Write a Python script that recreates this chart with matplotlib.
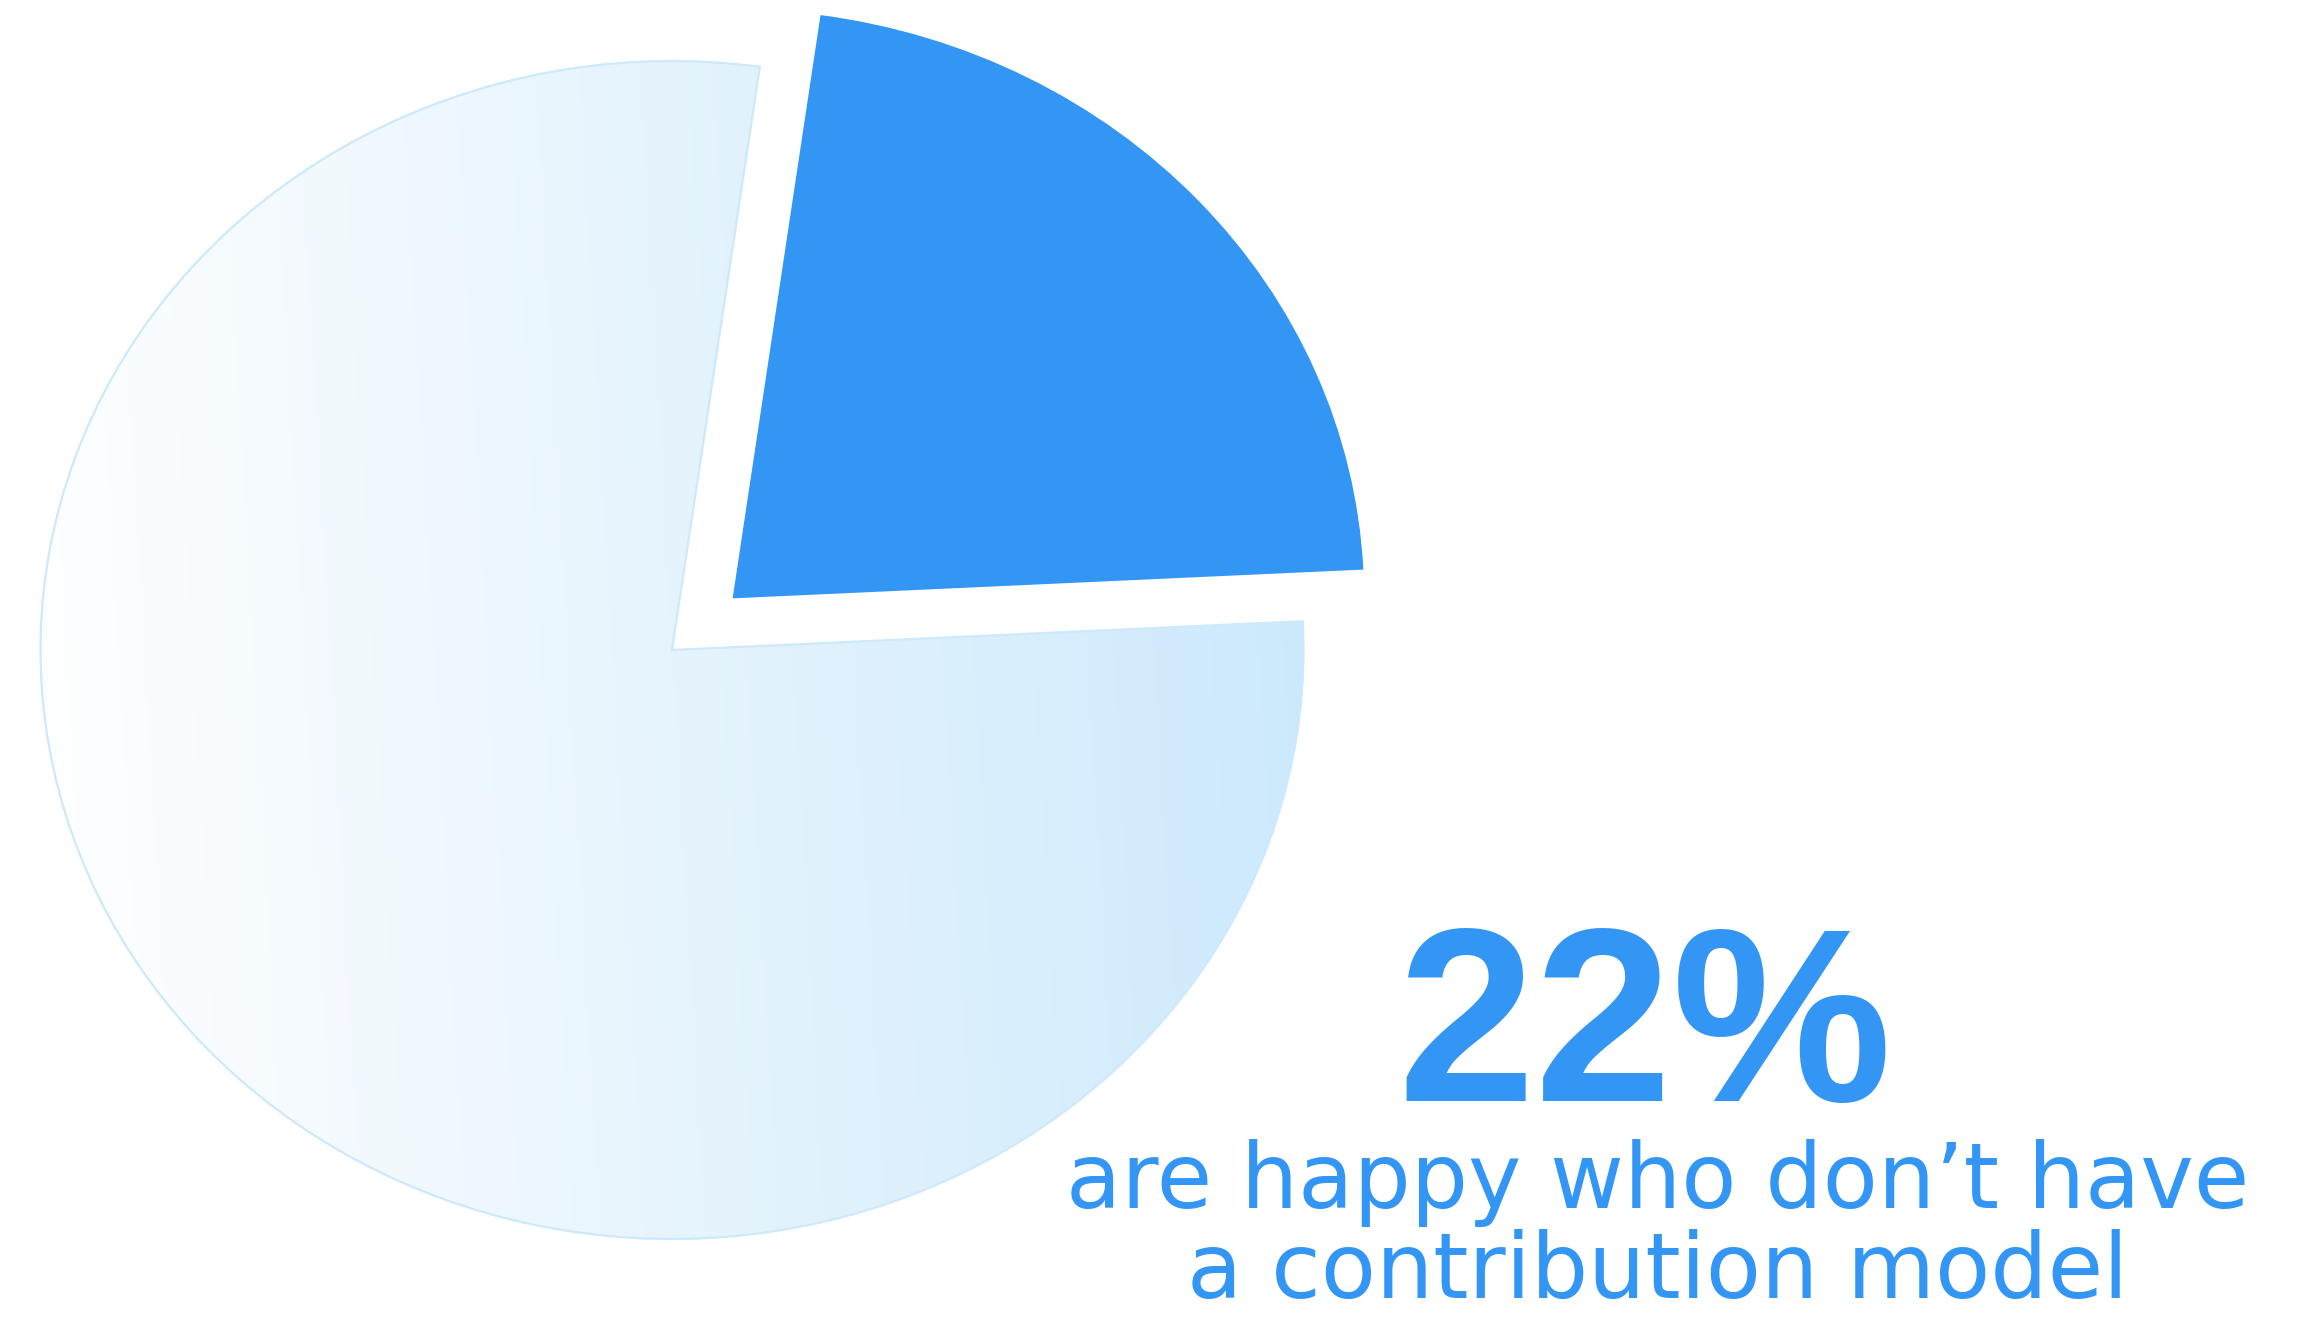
import numpy as np
import matplotlib
matplotlib.use("Agg")
import matplotlib.pyplot as plt
from matplotlib.colors import LinearSegmentedColormap

# data
values = [22, 78]
explode = [0.13, 0.0]
headline = "22%"
caption = ["are happy who don\u2019t have", "a contribution model"]

blue = "#3396F5"
W, H = 2301, 1317
cx, cy = 672, 650          # pie centre, pixels from top-left
rx, ry = 631.5, 589        # pie radii in pixels (slightly squashed)

fig = plt.figure(figsize=(W / 100, H / 100), dpi=100)
ax = fig.add_axes([0, 0, 1, 1])

wedges, _ = ax.pie(values, explode=explode, startangle=2.8, counterclock=True,
                   colors=[blue, "none"], radius=1.0,
                   wedgeprops=dict(linewidth=0))

# gradient fill of the big slice
big = wedges[1]
big.set_facecolor("none")
big.set_edgecolor("#CDE9FB")
big.set_linewidth(1.6)
big.set_zorder(3)

gx = np.linspace(0, 1, 400)
gy = np.linspace(0, 1, 400)
X, Y = np.meshgrid(gx, gy)
grad = X * 0.95 + (1 - Y) * 0.05
cmap = LinearSegmentedColormap.from_list("g", ["#FFFFFF", "#E6F4FD", "#CBE9FC"])
im = ax.imshow(grad, extent=[-1, 1, -1, 1], origin="upper", cmap=cmap,
               aspect="auto", zorder=2, interpolation="bilinear")
im.set_clip_path(big)

ax.set_aspect("auto")
ax.set_xlim(-cx / rx, (W - cx) / rx)
ax.set_ylim(-(H - cy) / ry, cy / ry)
ax.axis("off")

fig.text(1645 / W, 1 - 1101 / H, headline, ha="center", va="baseline",
         fontsize=178, fontweight="bold", family="Liberation Sans", color=blue)
fig.text(1658 / W, 1 - 1208 / H, caption[0], ha="center", va="baseline",
         fontsize=65, family="DejaVu Sans", color=blue)
fig.text(1658 / W, 1 - 1298 / H, caption[1], ha="center", va="baseline",
         fontsize=65, family="DejaVu Sans", color=blue)

fig.savefig("out.png", dpi=100, facecolor="white")
